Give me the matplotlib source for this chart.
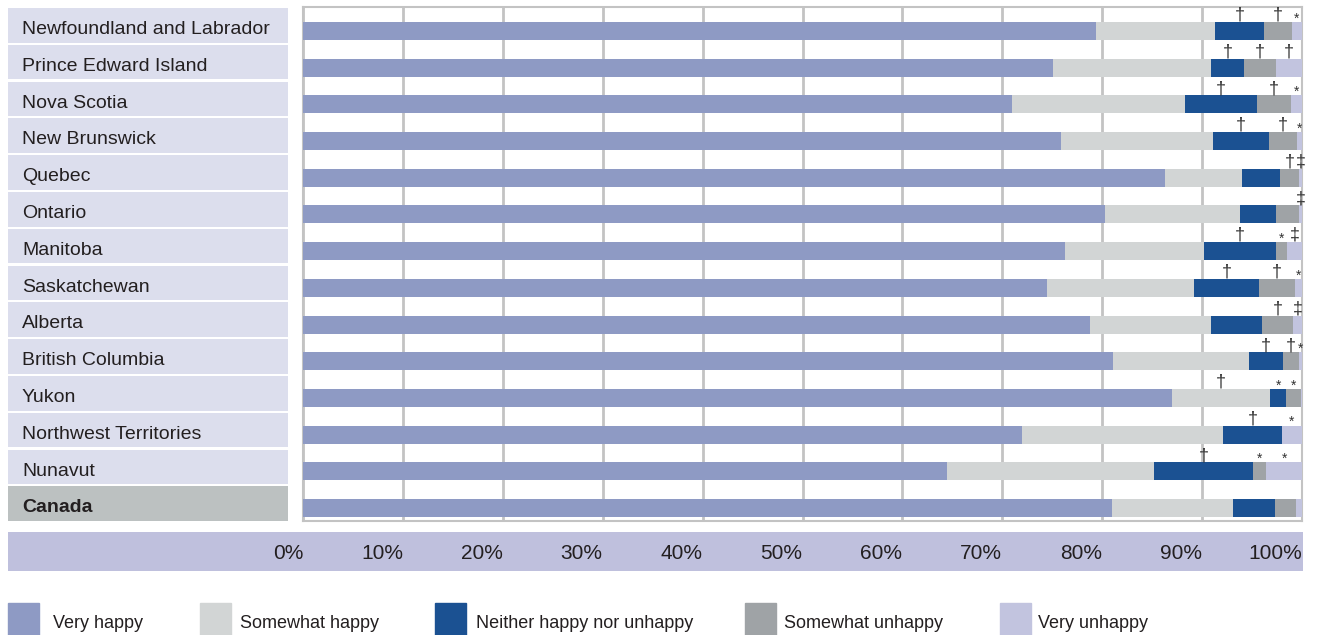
import numpy as np
import matplotlib
matplotlib.use('Agg')
import matplotlib.pyplot as plt
from matplotlib import font_manager
from matplotlib.patches import Rectangle

names = {f.name for f in font_manager.fontManager.ttflist}
if 'Liberation Sans Narrow' in names:
    plt.rcParams['font.family'] = ['Liberation Sans Narrow', 'DejaVu Sans']
    fs_lab = 16
else:
    plt.rcParams['font.family'] = ['Liberation Sans', 'DejaVu Sans']
    fs_lab = 14

provinces = ['Newfoundland and Labrador', 'Prince Edward Island', 'Nova Scotia',
             'New Brunswick', 'Quebec', 'Ontario', 'Manitoba', 'Saskatchewan',
             'Alberta', 'British Columbia', 'Yukon', 'Northwest Territories',
             'Nunavut', 'Canada']
categories = ['Very happy', 'Somewhat happy', 'Neither happy nor unhappy',
              'Somewhat unhappy', 'Very unhappy']

very_happy = [79.4, 75.1, 71.0, 75.9, 86.3, 80.3, 76.3, 74.5, 78.8, 81.1, 87.0, 72.0, 64.5, 81.0]
somewhat_happy = [11.9, 15.8, 17.3, 15.2, 7.7, 13.5, 13.9, 14.7, 12.1, 13.6, 9.8, 20.1, 20.7, 12.1]
neither = [4.9, 3.3, 7.2, 5.6, 3.8, 3.6, 7.2, 6.5, 5.1, 3.4, 1.6, 5.9, 9.9, 4.2]
somewhat_unhappy = [2.8, 3.2, 3.4, 2.8, 1.9, 2.3, 1.1, 3.6, 3.1, 1.6, 1.5, 0.0, 1.3, 2.1]
very_unhappy = [1.0, 2.6, 1.1, 0.5, 0.3, 0.3, 1.5, 0.7, 0.9, 0.3, 0.1, 2.0, 3.6, 0.6]

# reliability notes drawn above each segment
notes_very_happy = [''] * 14
notes_somewhat_happy = ['', '', '', '', '', '', '', '', '', '', '†', '', '', '']
notes_neither = ['†', '†', '†', '†', '', '', '†', '†', '', '†', '*', '†', '†', '']
notes_somewhat_unhappy = ['†', '†', '†', '†', '†', '', '*', '†', '†', '†', '*', '', '*', '']
notes_very_unhappy = ['*', '†', '*', '*', '‡', '‡', '‡', '*', '‡', '*', '', '*', '*', '']

colors = ['#8e9ac4', '#d2d5d5', '#1b5192', '#9fa3a6', '#c2c4df']
txt = '#231f20'

W, H = 1317, 635
fig = plt.figure(figsize=(W / 100, H / 100), dpi=100)

def box(x0, y0, x1, y1):
    return [x0 / W, 1 - y1 / H, (x1 - x0) / W, (y1 - y0) / H]

n = len(provinces)
series = [very_happy, somewhat_happy, neither, somewhat_unhappy, very_unhappy]
notes = [notes_very_happy, notes_somewhat_happy, notes_neither,
         notes_somewhat_unhappy, notes_very_unhappy]

# tick band behind the percent labels
band = fig.add_axes(box(8, 532, 1303, 571), zorder=-1)
band.set_facecolor('#bfc0dd')
band.set_xticks([])
band.set_yticks([])
for sp in band.spines.values():
    sp.set_visible(False)

# label panel
lax = fig.add_axes(box(8, 7, 288, 522))
lax.set_xlim(0, 1)
lax.set_ylim(n, 0)
lax.axis('off')
for i, p in enumerate(provinces):
    is_total = p == 'Canada'
    lax.add_patch(Rectangle((0, i + 0.03), 1, 0.94,
                            color='#bcc1c1' if is_total else '#dcdeed', lw=0))
    lax.text(0.05, i + 0.56, p, va='center_baseline', ha='left', fontsize=fs_lab,
             color=txt, fontweight='bold' if is_total else 'normal')

# bars
ax = fig.add_axes(box(303, 7, 1302, 521))
ax.set_xlim(0, 100)
ax.set_ylim(n, 0)
y = np.arange(n) + 0.65
left = np.zeros(n)
for vals, c, nt in zip(series, colors, notes):
    vals = np.array(vals)
    ax.barh(y, vals, left=left, height=0.49, color=c, lw=0, zorder=3)
    for i in range(n):
        s = nt[i]
        if not s:
            continue
        xc = left[i] + vals[i] / 2
        if s == '*':
            ax.text(xc, i + 0.31, s, ha='center', va='center', fontsize=10,
                    color='#333333', clip_on=False, zorder=4)
        else:
            ax.text(xc, i + 0.22, s, ha='center', va='center', fontsize=13,
                    color='#333333', clip_on=False, zorder=4)
    left = left + vals

ax.set_xticks(np.arange(0, 101, 10))
ax.set_xticklabels([f'{t}%' for t in range(0, 101, 10)])
ax.grid(axis='x', color='#c3c3c3', lw=2, zorder=1)
ax.set_yticks([])
ax.tick_params(axis='x', length=0, pad=22, labelsize=fs_lab + 1, labelcolor=txt)
for lbl in ax.get_xticklabels():
    lbl.set_ha('right')
    lbl.set_va('center_baseline')
for sp in ax.spines.values():
    sp.set_color('#c3c3c3')
    sp.set_linewidth(1.5)

# legend
sq_x = [8, 200, 435, 745, 1000]
tx_x = [53, 240, 476, 784, 1038]
for c, lab, sx, tx in zip(colors, categories, sq_x, tx_x):
    fig.patches.append(Rectangle((sx / W, 0), 31 / W, 32 / H,
                                 transform=fig.transFigure, color=c, zorder=0))
    fig.text(tx / W, 1 - 621 / H, lab, ha='left', va='center_baseline',
             fontsize=fs_lab - 1, color=txt)

fig.savefig('out.png', dpi=100)
